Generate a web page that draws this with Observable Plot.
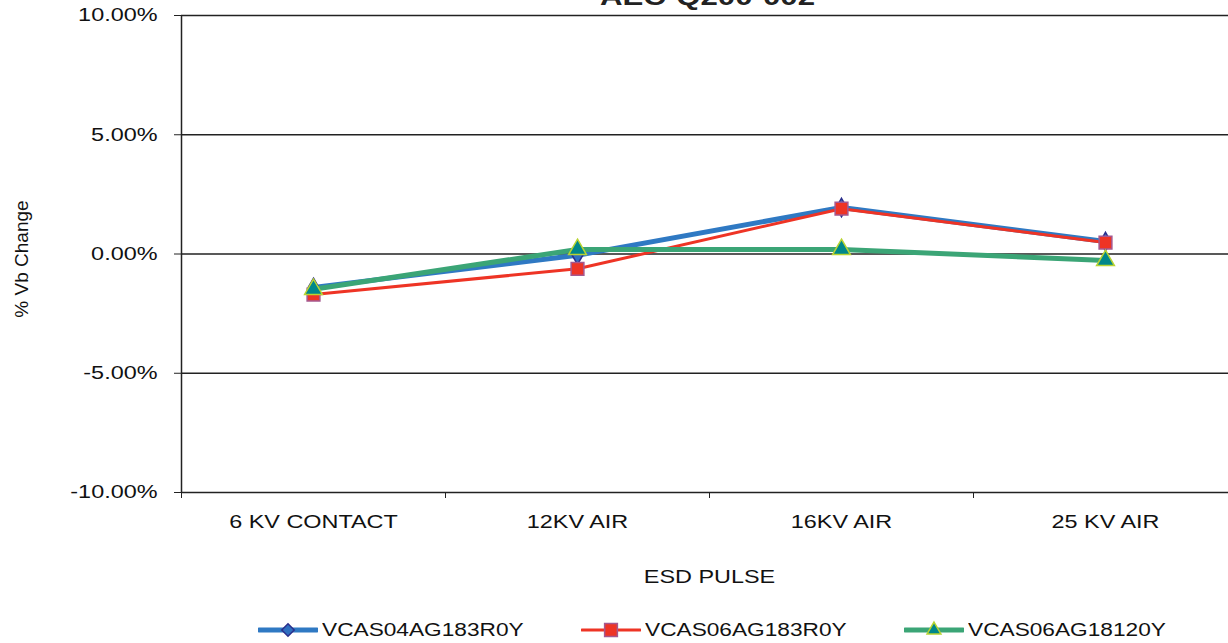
<!DOCTYPE html>
<html>
<head>
<meta charset="utf-8">
<script src="https://cdn.jsdelivr.net/npm/d3@7"></script>
<script src="https://cdn.jsdelivr.net/npm/@observablehq/plot@0.6"></script>
<style>
  html, body { margin: 0; padding: 0; background: #fff; overflow: hidden; width: 1228px; height: 643px; }
  body { font-family: "Liberation Sans", Arial, sans-serif; position: relative; }
  #chart { position: absolute; left: 0; top: 0; width: 1240px; }
  #chart svg { max-width: none !important; }
  #legend { position: absolute; left: 258px; top: 619px; display: flex; }
  .item { display: flex; align-items: center; width: 323px; height: 22px; }
  .item svg { flex: none; }
  .item span { display: inline-block; font-size: 18px; color: #111; transform: scaleX(1.26); transform-origin: left center; margin-left: 4px; white-space: nowrap; }
</style>
</head>
<body>
<div id="chart"></div>
<div id="legend"></div>
<script>
const title = "AEC-Q200-002";
const categories = ["6 KV CONTACT", "12KV AIR", "16KV AIR", "25 KV AIR"];
const seriesNames = ["VCAS04AG183R0Y", "VCAS06AG183R0Y", "VCAS06AG18120Y"];
const vcas04ag183r0y = [-1.40, -0.05, 1.95, 0.52];
const vcas06ag183r0y = [-1.70, -0.62, 1.90, 0.48];
const vcas06ag18120y = [-1.48, 0.19, 0.19, -0.27];
const yTicks = [-10, -5, 0, 5, 10];
const xLabel = "ESD PULSE";
const yLabel = "% Vb Change";

const lineColors = ["#2f79c3", "#ee3425", "#3ba576"];
const markFill = ["#2f6fc0", "#ee3425", "#00878a"];
const markStroke = ["#2b2f8c", "#a5588f", "#b8d432"];
const symbols = ["diamond", "square", "triangle"];
const radii = [5.6, 7.2, 6.6];
const widths = [5, 3, 5];

const seriesValues = [vcas04ag183r0y, vcas06ag183r0y, vcas06ag18120y];
const rows = [];
seriesValues.forEach((vals, s) => vals.forEach((v, i) => rows.push({series: seriesNames[s], s, i, v})));

const idx = categories.map((_, i) => i);
const bounds = [-0.5, ...idx.map(i => i + 0.5)];

const marks = [
  Plot.ruleY(yTicks, {stroke: "#222", strokeWidth: 1.5}),
  Plot.ruleX([-0.5], {stroke: "#222", strokeWidth: 1.5}),
  Plot.axisY({ticks: yTicks, tickSize: 7, tickPadding: 17, tickFormat: d => d.toFixed(2) + "%", label: null, fontSize: 18, stroke: "#222", color: "#111"}),
  Plot.axisX({ticks: bounds, tickSize: 6, tickFormat: () => "", label: null, stroke: "#222"}),
  Plot.axisX({ticks: idx, tickSize: 0, tickPadding: 23, tickFormat: i => categories[i], label: null, fontSize: 18, color: "#111"}),
  Plot.text([yLabel], {frameAnchor: "left", textAnchor: "middle", dx: -160, dy: 5, rotate: -90, fontSize: 19, fill: "#111"}),
  Plot.text([xLabel], {frameAnchor: "bottom", dy: 90, fontSize: 18, fill: "#111"}),
  Plot.text([title], {frameAnchor: "top", dy: -28, dx: -2, fontSize: 24, fontWeight: "bold", fill: "#222"})
];
seriesNames.forEach((name, s) => {
  const d = rows.filter(r => r.s === s);
  marks.push(Plot.line(d, {x: "i", y: "v", stroke: lineColors[s], strokeWidth: widths[s]}));
  marks.push(Plot.dot(d, {x: "i", y: "v", symbol: () => symbols[s], r: radii[s], fill: markFill[s], stroke: markStroke[s], strokeWidth: 1.5}));
});

const chart = Plot.plot({
  width: 1240,
  height: 600,
  marginTop: 15,
  marginBottom: 108,
  marginLeft: 181,
  marginRight: 3,
  style: {fontFamily: "'Liberation Sans', Arial, sans-serif", overflow: "visible", background: "transparent", maxWidth: "none"},
  x: {type: "linear", domain: [-0.5, categories.length - 0.5], axis: null},
  y: {domain: [-10, 10], axis: null},
  symbol: {type: "identity"},
  marks
});
document.getElementById("chart").append(chart);

// horizontally stretch non-rotated texts to match the reference's wide typeface
chart.querySelectorAll("text").forEach(t => {
  const tr = t.getAttribute("transform") || "";
  const parentTr = (t.parentNode.getAttribute && t.parentNode.getAttribute("transform")) || "";
  if (tr.includes("rotate") || parentTr.includes("rotate")) return;
  const len = t.getComputedTextLength();
  if (len > 0) {
    t.setAttribute("textLength", (len * 1.3).toFixed(1));
    t.setAttribute("lengthAdjust", "spacingAndGlyphs");
  }
});

// legend
const legend = document.getElementById("legend");
seriesNames.forEach((name, s) => {
  const item = document.createElement("div");
  item.className = "item";
  const sw = d3.create("svg").attr("width", 60).attr("height", 22);
  sw.append("line").attr("x1", 1).attr("x2", 59).attr("y1", 11).attr("y2", 11)
    .attr("stroke", lineColors[s]).attr("stroke-width", widths[s]).attr("stroke-linecap", "round");
  const symMap = {diamond: d3.symbolDiamond2, square: d3.symbolSquare, triangle: d3.symbolTriangle2};
  sw.append("path").attr("transform", "translate(30,11)")
    .attr("d", d3.symbol(symMap[symbols[s]], Math.PI * radii[s] * radii[s])())
    .attr("fill", markFill[s]).attr("stroke", markStroke[s]).attr("stroke-width", 1.5);
  item.append(sw.node());
  const span = document.createElement("span");
  span.textContent = name;
  item.append(span);
  legend.append(item);
});
</script>
</body>
</html>
